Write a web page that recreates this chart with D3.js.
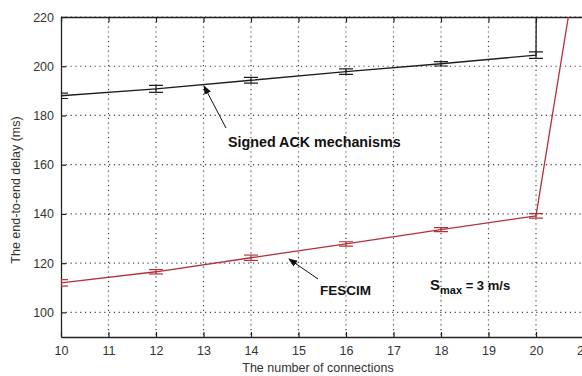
<!DOCTYPE html>
<html>
<head>
<meta charset="utf-8">
<script src="https://cdn.jsdelivr.net/npm/d3@7"></script>
<style>
  body { margin: 0; background: #fff; }
  svg { display: block; }
</style>
</head>
<body>
<svg id="chart" width="582" height="376"></svg>
<script>
// values
const xTicks = [10, 11, 12, 13, 14, 15, 16, 17, 18, 19, 20, 21];
const yTicks = [100, 120, 140, 160, 180, 200, 220];

const ackX = [10, 12, 14, 16, 18, 20, 20.03];
const ackY = [188, 190.8, 194.3, 197.8, 201, 204.5, 300];
const ackErr = [1.1, 1.4, 1.2, 1.1, 0.9, 1.3];

const fesX = [10, 12, 14, 16, 18, 20, 21];
const fesY = [112, 116.5, 122.2, 127.8, 133.6, 139.2, 258];
const fesErr = [1.3, 0.9, 1.1, 0.9, 0.8, 0.9];

const svg = d3.select("#chart");
const mLeft = 61, mRight = 583.5, mTop = 17, mBottom = 337;

const x = d3.scaleLinear().domain([10, 21]).range([mLeft, mRight]);
const y = d3.scaleLinear().domain([90, 220]).range([mBottom, mTop]);

const defs = svg.append("defs");
defs.append("clipPath").attr("id", "plot")
  .append("rect").attr("x", mLeft).attr("y", mTop)
  .attr("width", mRight - mLeft).attr("height", mBottom - mTop);

// grid
const grid = svg.append("g")
  .attr("stroke", "#444").attr("stroke-width", 1.2)
  .attr("stroke-dasharray", "1.2,3.6");
grid.selectAll(".vx").data(xTicks.slice(1, -1)).enter().append("line")
  .attr("x1", d => x(d)).attr("x2", d => x(d))
  .attr("y1", mTop).attr("y2", mBottom);
grid.selectAll(".hy").data(yTicks).enter().append("line")
  .attr("x1", mLeft).attr("x2", mRight)
  .attr("y1", d => y(d)).attr("y2", d => y(d));

// axes
const font = "'Liberation Sans', Arial, sans-serif";
const xAxis = svg.append("g").attr("transform", `translate(0,${mBottom})`)
  .call(d3.axisBottom(x).tickValues(xTicks).tickSize(-5).tickPadding(9).tickSizeOuter(0));
const xTop = svg.append("g").attr("transform", `translate(0,${mTop})`)
  .call(d3.axisTop(x).tickValues(xTicks).tickSize(-5).tickFormat("").tickSizeOuter(0));
const yAxis = svg.append("g").attr("transform", `translate(${mLeft},0)`)
  .call(d3.axisLeft(y).tickValues(yTicks).tickSize(-5).tickPadding(7).tickSizeOuter(0));

[xAxis, xTop, yAxis].forEach(a => {
  a.selectAll("path").attr("stroke", "#222").attr("stroke-width", 1.3);
  a.selectAll("line").attr("stroke", "#222").attr("stroke-width", 1.2);
  a.selectAll("text").attr("fill", "#333").style("font-family", font).style("font-size", "12.5px");
});

// lines
const plot = svg.append("g").attr("clip-path", "url(#plot)");
const line = d3.line().x(d => x(d[0])).y(d => y(d[1]));

function series(xs, ys, errs, color) {
  const pts = xs.map((v, i) => [v, ys[i]]);
  plot.append("path").datum(pts).attr("d", line)
    .attr("fill", "none").attr("stroke", color).attr("stroke-width", 1.3);
  const eb = plot.append("g").attr("stroke", color).attr("stroke-width", 1.2);
  errs.forEach((e, i) => {
    const cx = x(xs[i]);
    eb.append("line").attr("x1", cx).attr("x2", cx)
      .attr("y1", y(ys[i] + e)).attr("y2", y(ys[i] - e));
    [e, -e].forEach(s => {
      eb.append("line").attr("x1", cx - 7).attr("x2", cx + 7)
        .attr("y1", y(ys[i] + s)).attr("y2", y(ys[i] + s));
    });
  });
}
series(ackX, ackY, ackErr, "#1e1e1e");
series(fesX, fesY, fesErr, "#b2323a");

// annotations
defs.append("marker").attr("id", "arr").attr("viewBox", "0 0 10 10")
  .attr("refX", 9).attr("refY", 5).attr("markerWidth", 9).attr("markerHeight", 9)
  .attr("orient", "auto").attr("markerUnits", "userSpaceOnUse")
  .append("path").attr("d", "M0,1 L10,5 L0,9 Z").attr("fill", "#111");

svg.append("line").attr("x1", 226).attr("y1", 128).attr("x2", 204).attr("y2", 86)
  .attr("stroke", "#111").attr("stroke-width", 1).attr("marker-end", "url(#arr)");
svg.append("line").attr("x1", 318).attr("y1", 279).attr("x2", 289).attr("y2", 259)
  .attr("stroke", "#111").attr("stroke-width", 1).attr("marker-end", "url(#arr)");

svg.append("text").attr("x", 228).attr("y", 147)
  .style("font-family", font).style("font-size", "14.3px").style("font-weight", "bold")
  .attr("fill", "#111").text("Signed ACK mechanisms");
svg.append("text").attr("x", 320).attr("y", 295)
  .style("font-family", font).style("font-size", "13.5px").style("font-weight", "bold")
  .attr("fill", "#111").text("FESCIM");

const sm = svg.append("text").attr("x", 430).attr("y", 290)
  .style("font-family", font).style("font-weight", "bold").attr("fill", "#111");
sm.append("tspan").style("font-size", "15px").text("S");
sm.append("tspan").attr("dy", 4).style("font-size", "11px").text("max");
sm.append("tspan").attr("dy", -4).style("font-size", "13px").text(" = 3 m/s");

// axis titles
svg.append("text").attr("x", 318).attr("y", 372).attr("text-anchor", "middle")
  .style("font-family", font).style("font-size", "12.5px").attr("fill", "#333")
  .text("The number of connections");
svg.append("text").attr("transform", "translate(20,190) rotate(-90)").attr("text-anchor", "middle")
  .style("font-family", font).style("font-size", "12.5px").attr("fill", "#333")
  .text("The end-to-end delay (ms)");
</script>
</body>
</html>
